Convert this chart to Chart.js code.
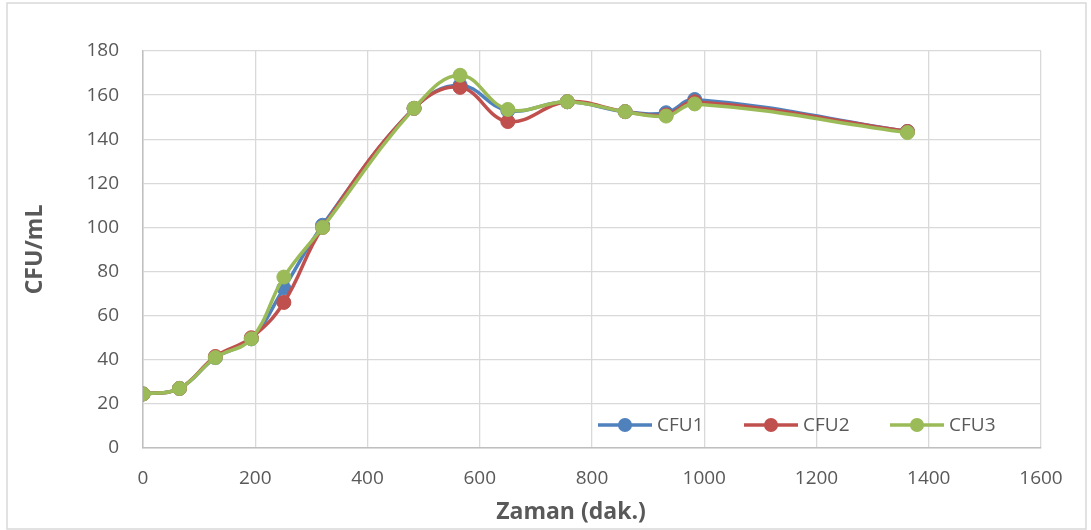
<!DOCTYPE html>
<html>
<head>
<meta charset="utf-8">
<script src="https://cdn.jsdelivr.net/npm/chart.js@4/dist/chart.umd.min.js"></script>
<style>
  html, body { margin: 0; padding: 0; background: #fff; }
  canvas { display: block; }
</style>
</head>
<body>
<canvas id="cfuChart" width="1091" height="530"></canvas>
<script>
// Zaman (dak.) values on the x axis
const times = [0, 65, 129, 193, 251, 320, 483, 565, 650, 756, 859, 932, 983, 1362];
const cfu1 = [24.5, 27, 41, 49.5, 72.5, 101, 154, 164.5, 153, 157, 152.5, 152, 158, 143.5];
const cfu2 = [24.5, 27, 41.5, 50, 66, 100, 154, 163.5, 148, 157, 152.5, 151, 157, 143.5];
const cfu3 = [24.5, 27, 41, 49.5, 77.5, 100, 154, 169, 153.5, 157, 152.5, 150.5, 156, 143];
const seriesNames = ['CFU1', 'CFU2', 'CFU3'];
const seriesColors = ['#4F81BD', '#C0504D', '#9BBB59'];
const xTitle = 'Zaman (dak.)';
const yTitle = 'CFU/mL';

const textColor = '#595959';
const fontFamily = '"Open Sans", "Liberation Sans", sans-serif';

function makeDataset(name, values, color, order) {
    return {
        label: name,
        data: times.map((t, i) => ({ x: t, y: values[i] })),
        borderColor: color,
        backgroundColor: color,
        pointBackgroundColor: color,
        pointBorderColor: color,
        borderWidth: 3.5,
        pointRadius: 7,
        pointBorderWidth: 1,
        tension: 0.4,
        showLine: true,
        fill: false,
        order: order
    };
}

// border around the whole chart, x title, and legend inside the plot area
const frame = {
    id: 'frame',
    beforeDraw(chart) {
        const ctx = chart.ctx;
        ctx.save();
        ctx.fillStyle = '#fff';
        ctx.fillRect(0, 0, chart.width, chart.height);
        ctx.strokeStyle = '#d9d9d9';
        ctx.lineWidth = 1.5;
        ctx.strokeRect(7, 3, 1079, 526);
        ctx.restore();
    },
    afterDraw(chart) {
        const ctx = chart.ctx;
        const area = chart.chartArea;
        ctx.save();

        ctx.fillStyle = textColor;
        ctx.font = 'bold 23px ' + fontFamily;
        ctx.textAlign = 'center';
        ctx.textBaseline = 'middle';
        ctx.fillText(xTitle, area.left + 428, chart.height - 18);

        const y = area.bottom - 23;
        let x = area.right - 443;
        ctx.font = '19px ' + fontFamily;
        ctx.textAlign = 'left';
        chart.data.datasets.forEach(ds => {
            ctx.strokeStyle = ds.borderColor;
            ctx.fillStyle = ds.borderColor;
            ctx.lineWidth = 3.5;
            ctx.beginPath();
            ctx.moveTo(x, y);
            ctx.lineTo(x + 54, y);
            ctx.stroke();
            ctx.beginPath();
            ctx.arc(x + 27, y, 7, 0, Math.PI * 2);
            ctx.fill();
            ctx.fillStyle = textColor;
            ctx.fillText(ds.label, x + 59, y + 1);
            x += 146;
        });
        ctx.restore();
    }
};

new Chart(document.getElementById('cfuChart'), {
    type: 'scatter',
    data: {
        datasets: [
            makeDataset(seriesNames[0], cfu1, seriesColors[0], 3),
            makeDataset(seriesNames[1], cfu2, seriesColors[1], 2),
            makeDataset(seriesNames[2], cfu3, seriesColors[2], 1)
        ]
    },
    options: {
        responsive: false,
        animation: false,
        layout: { padding: { top: 51, right: 50, bottom: 0, left: 0 } },
        plugins: {
            legend: { display: false },
            tooltip: { enabled: false }
        },
        scales: {
            x: {
                type: 'linear',
                min: 0,
                max: 1600,
                afterFit(scale) { scale.height = 82; },
                ticks: {
                    stepSize: 200,
                    padding: 19,
                    color: textColor,
                    font: { family: fontFamily, size: 19 },
                    callback: v => String(v)
                },
                grid: { color: '#d9d9d9', lineWidth: 1.3, drawTicks: false },
                border: { color: '#bfbfbf', width: 1.5 }
            },
            y: {
                min: 0,
                max: 180,
                afterFit(scale) { scale.width = 143; },
                ticks: {
                    stepSize: 20,
                    padding: 24,
                    color: textColor,
                    font: { family: fontFamily, size: 19 },
                    callback: v => String(v)
                },
                grid: { color: '#d9d9d9', lineWidth: 1.3, drawTicks: false },
                border: { color: '#bfbfbf', width: 1.5 },
                title: {
                    display: true,
                    text: yTitle,
                    color: textColor,
                    font: { family: fontFamily, size: 23, weight: 'bold' },
                    padding: { top: 22, bottom: 0 }
                }
            }
        }
    },
    plugins: [frame]
});
</script>
</body>
</html>
